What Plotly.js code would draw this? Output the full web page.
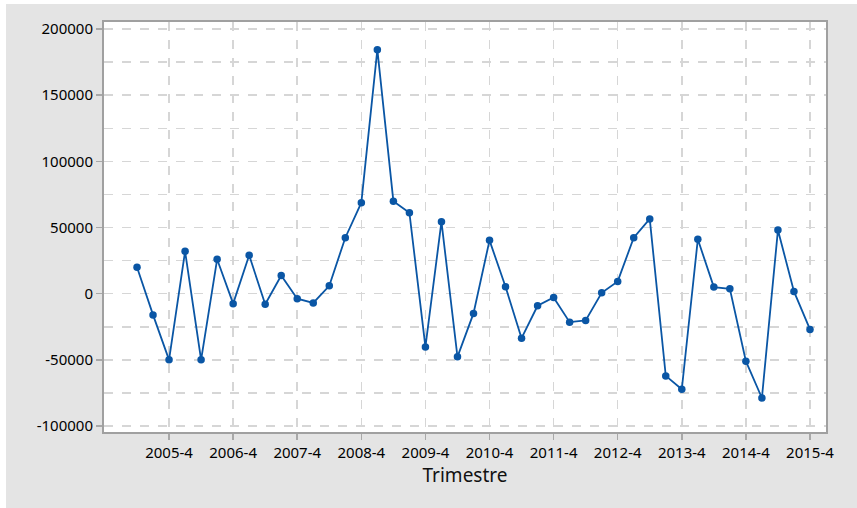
<!DOCTYPE html>
<html>
<head>
<meta charset="utf-8">
<script src="https://cdn.plot.ly/plotly-3.0.1.min.js"></script>
<style>
  html, body { margin: 0; padding: 0; background: #ffffff; width: 857px; height: 508px; overflow: hidden; }
  #chart { position: absolute; left: 6px; top: 4px; width: 851px; height: 504px; }
</style>
</head>
<body>
<div id="chart"></div>
<script>
// Quarters 2005-2 .. 2015-4
var quarters = [
  "2005-2","2005-3","2005-4",
  "2006-1","2006-2","2006-3","2006-4",
  "2007-1","2007-2","2007-3","2007-4",
  "2008-1","2008-2","2008-3","2008-4",
  "2009-1","2009-2","2009-3","2009-4",
  "2010-1","2010-2","2010-3","2010-4",
  "2011-1","2011-2","2011-3","2011-4",
  "2012-1","2012-2","2012-3","2012-4",
  "2013-1","2013-2","2013-3","2013-4",
  "2014-1","2014-2","2014-3","2014-4",
  "2015-1","2015-2","2015-3","2015-4"
];
var values = [
  20000, -16000, -50000,
  32000, -50000, 26000, -7500,
  29000, -8000, 13800, -3800,
  -7000, 6000, 42300, 68800,
  184400, 69900, 61200, -40200,
  54400, -47700, -14900, 40300,
  5200, -33600, -9100, -2800,
  -21500, -20200, 700, 9300,
  42300, 56500, -62100, -72200,
  41100, 5000, 3700, -51000,
  -78800, 48100, 1700, -27000
];
var xTickVals = ["2005-4","2006-4","2007-4","2008-4","2009-4","2010-4","2011-4","2012-4","2013-4","2014-4","2015-4"];
var xTickText = ["2005-4","2006-4","2007-4","2008-4","2009-4","2010-4","2011-4","2012-4","2013-4","2014-4","2015-4"];
var yTickVals = [-100000, -50000, 0, 50000, 100000, 150000, 200000];
var yTickText = ["-100000", "-50000", "0", "50000", "100000", "150000", "200000"];

var trace = {
  x: quarters,
  y: values,
  type: "scatter",
  mode: "lines+markers",
  line: { color: "#0a56a5", width: 1.8 },
  marker: { color: "#0a56a5", size: 7.5 },
  hoverinfo: "x+y"
};

var gridColor = "#d6d6d6";
var layout = {
  width: 851,
  height: 504,
  margin: { l: 98, r: 31, t: 18, b: 76 },
  paper_bgcolor: "#e4e4e4",
  plot_bgcolor: "#ffffff",
  showlegend: false,
  font: { family: "Noto Sans, Open Sans, sans-serif", size: 15, color: "#000000" },
  xaxis: {
    type: "category",
    range: [-2.06, 43.0],
    tickmode: "array",
    tickvals: xTickVals,
    ticktext: xTickText,
    ticks: "outside",
    ticklen: 6,
    tickwidth: 1.5,
    tickcolor: "#a8a8a8",
    showgrid: true,
    gridcolor: gridColor,
    griddash: "dash",
    gridwidth: 1.5,
    showline: true,
    linecolor: "#a0a0a0",
    linewidth: 2,
    mirror: true,
    zeroline: false,
    tickfont: { size: 15, color: "#000000" },
    title: { text: "Trimestre", font: { size: 19, color: "#111111" }, standoff: 8 }
  },
  yaxis: {
    range: [-104500, 205300],
    tickmode: "array",
    tickvals: yTickVals,
    ticktext: yTickText,
    ticks: "outside",
    ticklen: 6,
    tickwidth: 1.5,
    tickcolor: "#a8a8a8",
    showgrid: true,
    gridcolor: gridColor,
    griddash: "dash",
    gridwidth: 1.5,
    minor: { dtick: 25000, tick0: 0, showgrid: true, gridcolor: gridColor, griddash: "dash", gridwidth: 1.5, ticks: "" },
    showline: true,
    linecolor: "#a0a0a0",
    linewidth: 2,
    mirror: true,
    zeroline: false,
    tickfont: { size: 15, color: "#000000" }
  }
};

Plotly.newPlot("chart", [trace], layout, { displayModeBar: false, staticPlot: true });
</script>
</body>
</html>
